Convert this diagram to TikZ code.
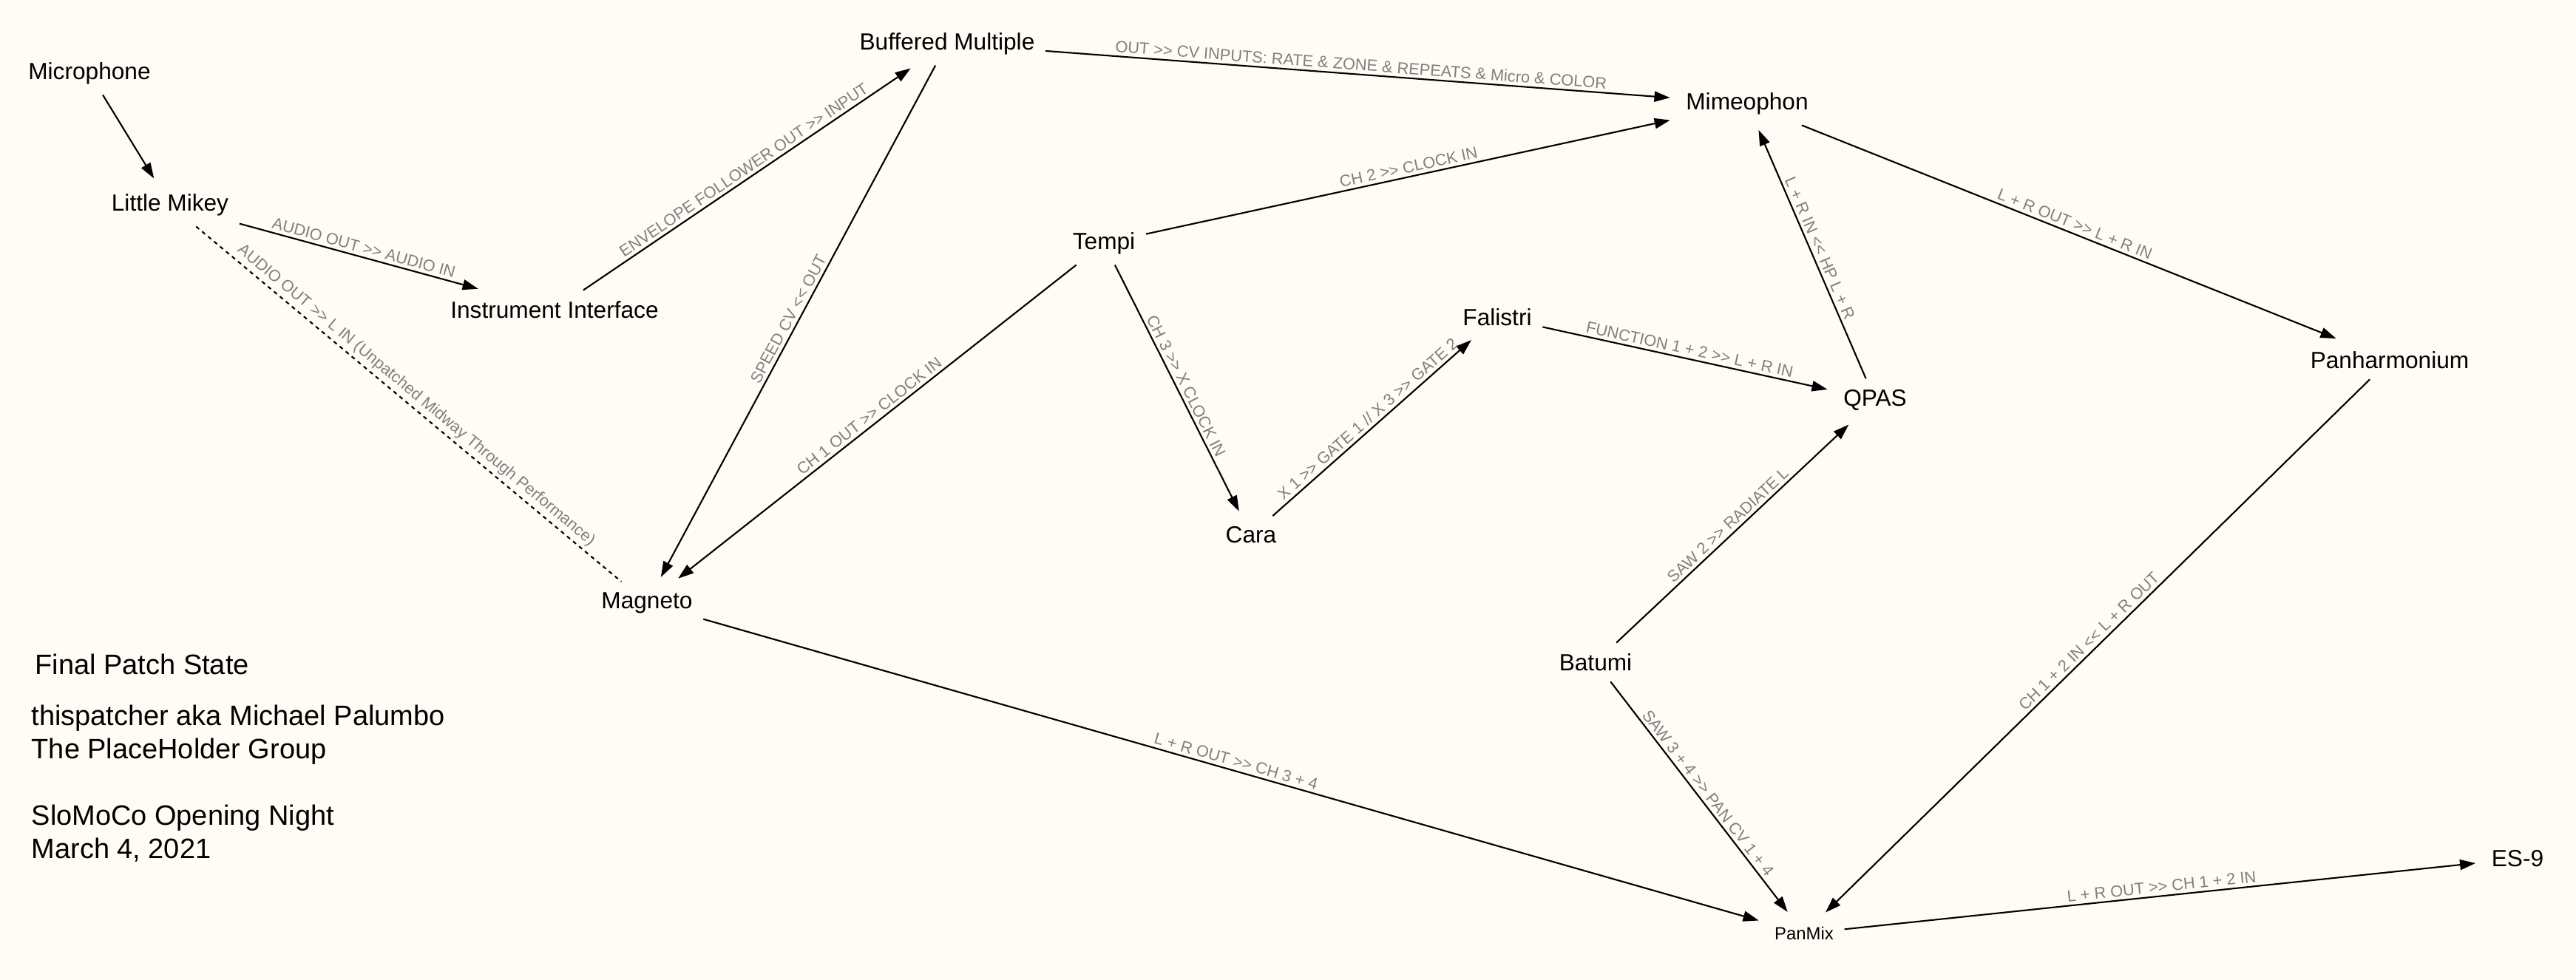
\documentclass[tikz,border=0pt]{standalone}
\usepackage{fontspec}
\setmainfont{Liberation Sans}
\usetikzlibrary{positioning,arrows.meta}
\definecolor{paper}{RGB}{254,252,244}
\definecolor{cvgray}{RGB}{128,128,128}
\newcommand{\into}{>{}>}
\newcommand{\outof}{<{}<}

\begin{document}
\begin{tikzpicture}[
    mod/.style={font=\fontsize{9}{11}\selectfont,inner sep=4pt},
    patch/.style={draw,line width=0.6pt,-{Triangle[length=6pt,width=4pt]},shorten >=2pt},
    unpatched/.style={draw,line width=0.6pt,dash pattern=on 1.5pt off 1.5pt},
    cv/.style={midway,above,sloped,inner sep=1.2pt,text=cvgray,font=\fontsize{6.2}{7}\selectfont},
    on grid]
    \fill[paper] (0,0) rectangle (34.84,-13.26);
    \useasboundingbox (0,0) rectangle (34.84,-13.26);
    % modules
    \node[mod] (mic) at (1.21,-0.99) {Microphone};
    \node[mod,below right=1.78cm and 1.09cm of mic] (mikey) {Little Mikey};
    \node[mod,below right=1.42cm and 5.20cm of mikey] (iface) {Instrument Interface};
    \node[mod,above right=3.60cm and 5.31cm of iface] (buf) {Buffered Multiple};
    \node[mod,below right=0.81cm and 10.82cm of buf] (mimeo) {Mimeophon};
    \node[mod,below right=2.70cm and 2.12cm of buf] (tempi) {Tempi};
    \node[mod,below left=4.87cm and 6.18cm of tempi] (magneto) {Magneto};
    \node[mod,below right=3.95cm and 1.99cm of tempi] (cara) {Cara};
    \node[mod,above right=2.95cm and 3.33cm of cara] (falistri) {Falistri};
    \node[mod,below right=1.12cm and 5.11cm of falistri] (qpas) {QPAS};
    \node[mod,below right=3.47cm and 8.69cm of mimeo] (panh) {Panharmonium};
    \node[mod,below left=3.55cm and 3.78cm of qpas] (batumi) {Batumi};
    \node[mod,below right=3.67cm and 2.82cm of batumi,font=\fontsize{6.8}{8}\selectfont] (panmix) {PanMix};
    \node[mod,above right=1.01cm and 9.65cm of panmix] (es9) {ES-9};
    % notes
    \node[anchor=base west,inner sep=0pt,font=\fontsize{10.8}{12.8}\selectfont] (title) at (0.47,-9.13) {Final Patch State};
    \node[anchor=north west,inner sep=0pt,align=left,font=\fontsize{10.8}{12.8}\selectfont] (credits) at (0.42,-9.53)
        {thispatcher aka Michael Palumbo\\The PlaceHolder Group\\[12.8pt]SloMoCo Opening Night\\March 4, 2021};
    % cables
    \path[patch] (mic) -- (mikey);
    \path[patch] (mikey) -- node[cv] {AUDIO OUT \into{} AUDIO IN} (iface);
    \path[unpatched] (mikey) -- node[cv] {AUDIO OUT \into{} L IN (Unpatched Midway Through Performance)} (magneto);
    \path[patch] (iface) -- node[cv] {ENVELOPE FOLLOWER OUT \into{} INPUT} (buf);
    \path[patch] (buf) -- node[cv] {SPEED CV \outof{} OUT} (magneto);
    \path[patch] (buf) -- node[cv] {OUT \into{} CV INPUTS: RATE \& ZONE \& REPEATS \& Micro \& COLOR} (mimeo);
    \path[patch] (tempi) -- node[cv] {CH 2 \into{} CLOCK IN} (mimeo);
    \path[patch] (tempi) -- node[cv] {CH 1 OUT \into{} CLOCK IN} (magneto);
    \path[patch] (tempi) -- node[cv] {CH 3 \into{} X CLOCK IN} (cara);
    \path[patch] (cara) -- node[cv] {X 1 \into{} GATE 1 // X 3 \into{} GATE 2} (falistri);
    \path[patch] (falistri) -- node[cv] {FUNCTION 1 + 2 \into{} L + R IN} (qpas);
    \path[patch] (qpas) -- node[cv] {L + R IN \outof{} HP L + R} (mimeo);
    \path[patch] (mimeo) -- node[cv] {L + R OUT \into{} L + R IN} (panh);
    \path[patch] (batumi) -- node[cv] {SAW 2 \into{} RADIATE L} (qpas);
    \path[patch] (batumi) -- node[cv] {SAW 3 + 4 \into{} PAN CV 1 + 4} (panmix);
    \path[patch] (magneto) -- node[cv] {L + R OUT \into{} CH 3 + 4} (panmix);
    \path[patch] (panh) -- node[cv] {CH 1 + 2 IN \outof{} L + R OUT} (panmix);
    \path[patch] (panmix) -- node[cv] {L + R OUT \into{} CH 1 + 2 IN} (es9);
\end{tikzpicture}
\end{document}
